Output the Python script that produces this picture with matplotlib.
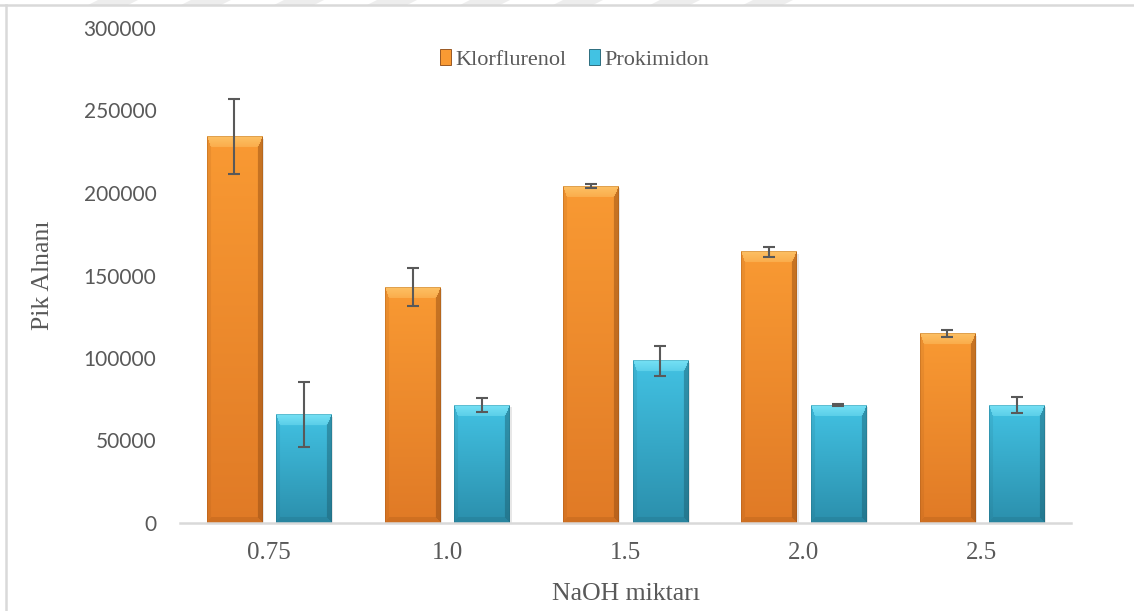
import numpy as np
import matplotlib.pyplot as plt
from matplotlib.patches import Patch, Rectangle, Polygon
from matplotlib.colors import to_rgb
from matplotlib.transforms import offset_copy

# values
categories = ['0.75', '1.0', '1.5', '2.0', '2.5']
klorflurenol = [234000, 143000, 204200, 164300, 114700]
klorflurenol_err = [22700, 11500, 1000, 3000, 2000]
prokimidon = [65500, 71500, 98200, 71500, 71500]
prokimidon_err = [19700, 4500, 9000, 800, 4800]

GREY = '#595959'
SERIF = 'Liberation Serif'

# bar colour sets: top, bottom, bevel highlight, dark edge
ORANGE = dict(top='#F99A33', bottom='#E07A26', light='#FFD27A', dark='#8A4610')
CYAN = dict(top='#42C2E3', bottom='#2B8FAC', light='#8DEEFC', dark='#1B5B6C')


def shade_bar(ax, patch, c):
    x0, y0 = patch.get_x(), patch.get_y()
    w, h = patch.get_width(), patch.get_height()
    px0, py0 = ax.transData.transform((x0, y0))
    px1, py1 = ax.transData.transform((x0 + w, y0 + h))
    W = max(int(round(px1 - px0)), 2)
    H = max(int(round(py1 - py0)), 2)
    yy, xx = np.mgrid[0:H, 0:W] + 0.5
    t = (yy / H)[..., None]
    top, bot = np.array(to_rgb(c['top'])), np.array(to_rgb(c['bottom']))
    light, dark = np.array(to_rgb(c['light'])), np.array(to_rgb(c['dark']))
    img = top * (1 - t) + bot * t

    d = np.stack([yy / 11.0, xx / 4.0, (W - xx) / 5.0, (H - yy) / 6.0])
    face = np.argmin(d, axis=0)
    inside = d.min(axis=0) < 1
    # top bevel fades from bright at the edge to the body colour
    fade = np.clip(1 - yy / 11.0, 0, 1)[..., None]
    top_f = (inside & (face == 0))[..., None]
    left_f = (inside & (face == 1))[..., None]
    right_f = (inside & (face == 2))[..., None]
    bot_f = (inside & (face == 3))[..., None]
    mix = 0.35 + 0.35 * fade
    img = np.where(top_f, img * (1 - mix) + light * mix, img)
    img = np.where(left_f, img * 0.88 + dark * 0.12, img)
    img = np.where(right_f, img * 0.55 + dark * 0.45, img)
    img = np.where(bot_f, img * 0.8 + dark * 0.2, img)
    # thin outline
    edge = ((xx < 1) | (xx > W - 1) | (yy < 1))[..., None]
    img = np.where(edge, img * 0.75 + dark * 0.25, img)
    ax.imshow(np.clip(img, 0, 1), extent=(x0, x0 + w, y0, y0 + h),
              origin='upper', aspect='auto', interpolation='bilinear', zorder=2)
    shadow = offset_copy(ax.transData, fig=ax.figure, x=2, y=-2, units='dots')
    ax.add_patch(Rectangle((x0, y0), w, h, transform=shadow, facecolor='#7F7F7F',
                           alpha=0.18, edgecolor='none', zorder=1.5))


fig = plt.figure(figsize=(11.34, 6.11), dpi=100)
ax = fig.add_axes([180 / 1134, 1 - 523 / 611, 891 / 1134, 495 / 611])

x = np.arange(len(categories))
bw = 0.31
off = 0.195
b1 = ax.bar(x - off, klorflurenol, bw, color='none', zorder=2)
b2 = ax.bar(x + off, prokimidon, bw, color='none', zorder=2)

ax.set_xlim(-0.5, len(categories) - 0.5)
ax.set_ylim(0, 300000)

for p in b1:
    shade_bar(ax, p, ORANGE)
for p in b2:
    shade_bar(ax, p, CYAN)

ax.errorbar(x - off, klorflurenol, yerr=klorflurenol_err, fmt='none', ecolor=GREY,
            elinewidth=1.5, capsize=4.5, capthick=1.5, zorder=4)
ax.errorbar(x + off, prokimidon, yerr=prokimidon_err, fmt='none', ecolor=GREY,
            elinewidth=1.5, capsize=4.5, capthick=1.5, zorder=4)

ax.set_xlim(-0.5, len(categories) - 0.5)
ax.set_ylim(0, 300000)
ax.set_yticks(np.arange(0, 300001, 50000))
ax.set_yticklabels([f'{v}' for v in range(0, 300001, 50000)],
                   fontfamily='Lato', fontsize=15, color=GREY)
ax.set_xticks(x)
ax.set_xticklabels(categories, fontfamily=SERIF, fontsize=18, color=GREY)
ax.tick_params(axis='y', length=0, pad=17)
ax.tick_params(axis='x', length=0, pad=14)

for s in ['top', 'right', 'left']:
    ax.spines[s].set_visible(False)
ax.spines['bottom'].set_color('#D9D9D9')
ax.spines['bottom'].set_linewidth(1.8)

ax.set_ylabel('Pik Alnanı', fontfamily=SERIF, fontsize=18.5, color=GREY, labelpad=21)
ax.set_xlabel('NaOH miktarı', fontfamily=SERIF, fontsize=18.5, color=GREY, labelpad=13)

handles = [Patch(facecolor=ORANGE['top'], edgecolor=ORANGE['dark'], linewidth=0.6),
           Patch(facecolor=CYAN['top'], edgecolor=CYAN['dark'], linewidth=0.6)]
leg = ax.legend(handles, ['Klorflurenol', 'Prokimidon'], loc='center',
                bbox_to_anchor=(0.443, 0.937), ncol=2, frameon=False,
                prop={'family': SERIF, 'size': 16}, handlelength=0.5,
                handleheight=0.75, handletextpad=0.2, columnspacing=1.0)
for txt in leg.get_texts():
    txt.set_color(GREY)

# page border and faint watermark stripes at the top edge
fig.add_artist(plt.Line2D([0, 1], [1 - 5 / 611] * 2, color='#D9D9D9', lw=1.8,
                          transform=fig.transFigure))
fig.add_artist(plt.Line2D([6 / 1134] * 2, [0, 1 - 5 / 611], color='#D9D9D9', lw=1.8,
                          transform=fig.transFigure))
for sx in [98, 191, 284, 377, 470, 563, 660, 753]:
    pts = [(sx / 1134, 1), ((sx + 40) / 1134, 1),
           ((sx + 30) / 1134, 1 - 5 / 611), ((sx - 10) / 1134, 1 - 5 / 611)]
    fig.add_artist(Polygon(pts, closed=True, facecolor='#EDEDED', edgecolor='none',
                           transform=fig.transFigure))

fig.savefig('out.png', dpi=100, facecolor='white')
